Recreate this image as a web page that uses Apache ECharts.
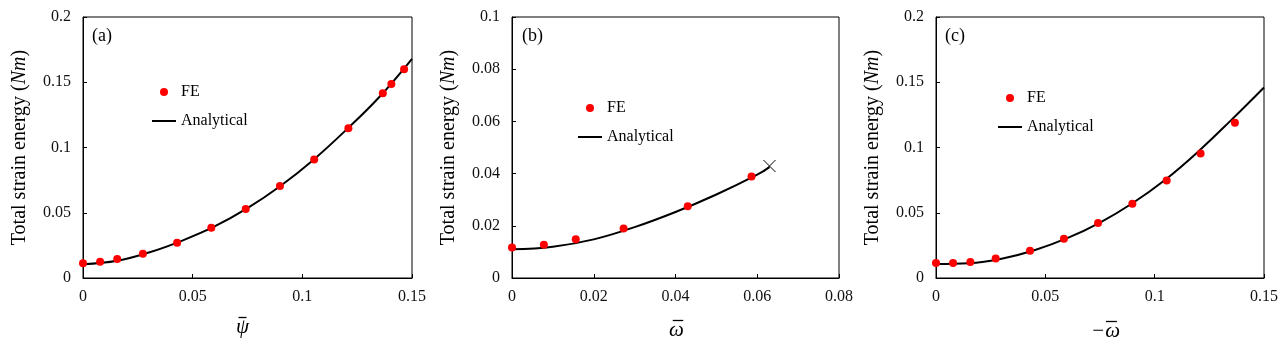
<!DOCTYPE html>
<html>
<head>
<meta charset="utf-8">
<script src="https://cdn.jsdelivr.net/npm/echarts@6/dist/echarts.min.js"></script>
<style>
	html,body{margin:0;padding:0;background:#fff;}
	#chart{width:1285px;height:352px;}
</style>
</head>
<body>
<div id="chart"></div>
<script>
// (a) psi bar
var psiFE = [0, 0.0078, 0.0156, 0.0273, 0.0429, 0.0585, 0.0742, 0.0898, 0.1054, 0.121, 0.1367, 0.1406, 0.1464];
var energyFEa = [0.0113, 0.0125, 0.0146, 0.0186, 0.0271, 0.0386, 0.0529, 0.0705, 0.0909, 0.1147, 0.1415, 0.1487, 0.1599];
var psiCurve = [0, 0.0156, 0.03, 0.045, 0.06, 0.075, 0.09, 0.105, 0.12, 0.135, 0.15];
var energyCurveA = [0.0105, 0.0132, 0.0195, 0.0285, 0.0395, 0.0535, 0.0705, 0.0905, 0.1135, 0.1385, 0.168];

// (b) omega bar
var omegaFE = [0, 0.0078, 0.0156, 0.0273, 0.043, 0.0586];
var energyFEb = [0.0117, 0.0127, 0.0148, 0.019, 0.0275, 0.0389];
var omegaCurve = [0, 0.01, 0.02, 0.03, 0.04, 0.05, 0.06, 0.063];
var energyCurveB = [0.011, 0.012, 0.0148, 0.0195, 0.0253, 0.032, 0.0396, 0.0425];
var omegaEnd = [0.063];
var energyEnd = [0.0429];

// (c) -omega bar
var negOmegaFE = [0, 0.0078, 0.0157, 0.0273, 0.043, 0.0585, 0.0741, 0.0898, 0.1055, 0.121, 0.1367];
var energyFEc = [0.0115, 0.0115, 0.0122, 0.015, 0.0209, 0.0301, 0.0421, 0.0569, 0.0747, 0.0954, 0.1189];
var negOmegaCurve = [0, 0.015, 0.03, 0.045, 0.06, 0.075, 0.09, 0.105, 0.12, 0.135, 0.15];
var energyCurveC = [0.0107, 0.0113, 0.0148, 0.0213, 0.0305, 0.0425, 0.0575, 0.0755, 0.097, 0.121, 0.146];

var panelLabels = ['(a)', '(b)', '(c)'];
// the bar over the symbol is a first rich-text line
var xNames = [
	'{o| }{sr| }\n{v|\u03c8}',
	'{sl| }{o| }\n{v|\u03c9}',
	'{h|\u2212}{o| }\n{v|\u2212\u03c9}'
];
var xNameGaps = [38, 41, 42];
var barWidths = [8, 10.5, 11];
// [left, right] padding used to nudge the name sideways
var xNamePads = [[0, 10], [2, 0], [11, 0]];
var barShift = [0, 5, 0];

window.onload = function(){
	var font = '"Liberation Serif", "Times New Roman", serif';
	var myChart = echarts.init(document.getElementById('chart'));

	function pairs(xs, ys){
		var out = [];
		for (var i = 0; i < xs.length; i++) out.push([xs[i], ys[i]]);
		return out;
	}

	var grids = [
		{left:83, top:17, width:329, height:261},
		{left:512, top:17, width:327, height:261},
		{left:936, top:17, width:328, height:261}
	];
	var xMax = [0.15, 0.08, 0.15];
	var xStep = [0.05, 0.02, 0.05];
	var yMax = [0.2, 0.1, 0.2];
	var yStep = [0.05, 0.02, 0.05];

	var xAxis = [], yAxis = [];
	for (var i = 0; i < 3; i++) {
		grids[i].show = true;
		grids[i].borderColor = '#000';
		grids[i].borderWidth = 1;
		var pl = xNamePads[i][0], pr = xNamePads[i][1];
		xAxis.push({
			type:'value', gridIndex:i, min:0, max:xMax[i], interval:xStep[i],
			name:xNames[i], nameLocation:'middle', nameGap:xNameGaps[i],
			nameTextStyle:{
				verticalAlign:'top',
				rich:{
					o:{width:barWidths[i], height:1.3, backgroundColor:'#000', lineHeight:3, fontSize:2},
					sl:{width:barShift[i], fontSize:2, lineHeight:3},
					sr:{width:pr, fontSize:2, lineHeight:3},
					h:{fontFamily:font, fontSize:21, color:'transparent', lineHeight:3, padding:[0,0,0,pl]},
					v:{fontFamily:font, fontSize:21, fontStyle:'italic', color:'#000', lineHeight:16, padding:[0,pr,0,pl]}
				}
			},
			axisLine:{lineStyle:{color:'#000'}},
			axisTick:{inside:true, length:4, lineStyle:{color:'#000'}},
			axisLabel:{fontFamily:font, fontSize:16, color:'#111', margin:11},
			splitLine:{show:false}
		});
		yAxis.push({
			type:'value', gridIndex:i, min:0, max:yMax[i], interval:yStep[i],
			name:'Total strain energy ({i|Nm})', nameLocation:'middle', nameGap:53,
			nameTextStyle:{fontFamily:font, fontSize:20, color:'#000',
				rich:{i:{fontFamily:font, fontSize:20, fontStyle:'italic', color:'#000'}}},
			axisLine:{lineStyle:{color:'#000'}},
			axisTick:{inside:true, length:4, lineStyle:{color:'#000'}},
			axisLabel:{fontFamily:font, fontSize:16, color:'#111', margin:12},
			splitLine:{show:false}
		});
	}

	function feSeries(idx, xs, ys){
		return {
			name:'FE', type:'scatter', xAxisIndex:idx, yAxisIndex:idx,
			data:pairs(xs, ys), symbol:'circle', symbolSize:8,
			itemStyle:{color:'#ff0000', opacity:1}, z:3
		};
	}
	function curveSeries(idx, xs, ys){
		return {
			name:'Analytical', type:'line', xAxisIndex:idx, yAxisIndex:idx,
			data:pairs(xs, ys), smooth:0.4, symbol:'none',
			lineStyle:{color:'#000', width:2}, itemStyle:{color:'#000'}, z:2
		};
	}

	var legendPos = [
		{left:152, top:84},
		{left:578, top:100},
		{left:998, top:90}
	];
	var legends = legendPos.map(function(p){
		return {
			left:p.left, top:p.top, orient:'vertical', itemGap:13, padding:0,
			itemWidth:24, itemHeight:8,
			data:[
				{name:'FE', icon:'circle'},
				{name:'Analytical', icon:'path://M0,0L24,0L24,2L0,2Z'}
			],
			textStyle:{fontFamily:font, fontSize:16, color:'#000'}
		};
	});

	var labelX = [92, 522, 945];
	var graphics = panelLabels.map(function(t, i){
		return {
			type:'text', left:labelX[i], top:27,
			style:{text:t, font:'18px ' + font, fill:'#000'}
		};
	});

	var option = {
		animation:false,
		backgroundColor:'#fff',
		grid:grids,
		xAxis:xAxis,
		yAxis:yAxis,
		legend:legends,
		graphic:graphics,
		series:[
			curveSeries(0, psiCurve, energyCurveA),
			feSeries(0, psiFE, energyFEa),
			curveSeries(1, omegaCurve, energyCurveB),
			feSeries(1, omegaFE, energyFEb),
			{
				name:'limit', type:'scatter', xAxisIndex:1, yAxisIndex:1,
				data:pairs(omegaEnd, energyEnd),
				symbol:'path://M0,0L10,10M10,0L0,10', symbolSize:12,
				itemStyle:{color:'none', borderColor:'#000', borderWidth:1, opacity:1}, z:4
			},
			curveSeries(2, negOmegaCurve, energyCurveC),
			feSeries(2, negOmegaFE, energyFEc)
		]
	};
	myChart.setOption(option);
	window.addEventListener('resize',function(){
		myChart.resize()
	})
}
</script>
</body>
</html>
